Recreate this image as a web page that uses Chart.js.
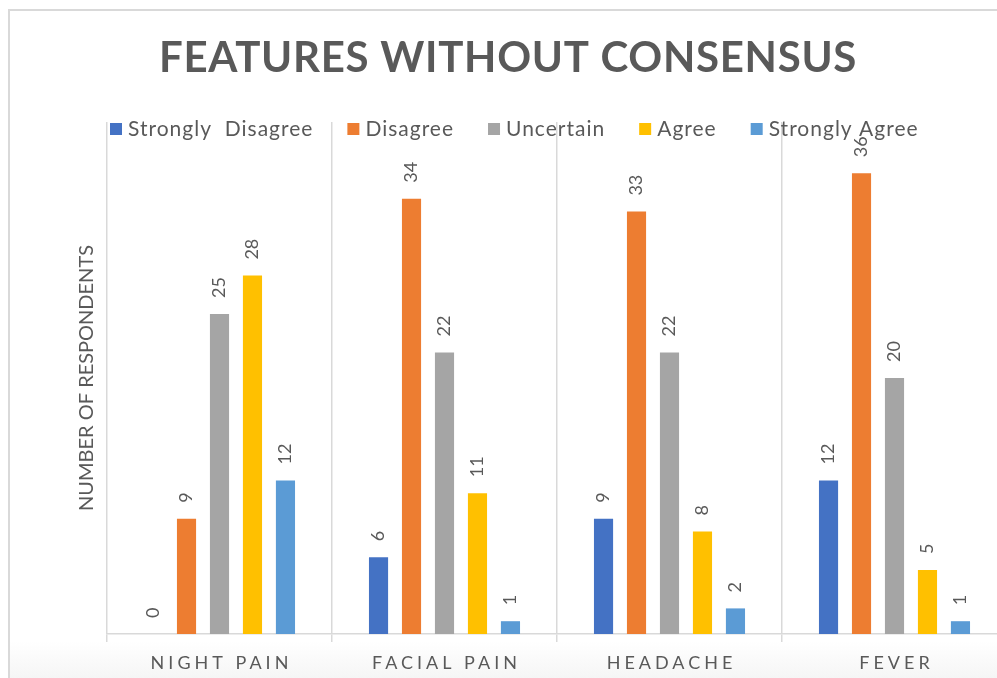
<!DOCTYPE html>
<html>
<head>
<meta charset="utf-8">
<script src="https://cdn.jsdelivr.net/npm/chart.js@4.4.1/dist/chart.umd.min.js"></script>
<style>
  html, body { margin: 0; padding: 0; background: #fff; overflow: hidden; width: 997px; height: 678px; }
  #frame {
    position: absolute; left: 8px; top: 9px; width: 1010px; height: 680px;
    border-top: 2px solid #d9d9d9; border-left: 2px solid #d9d9d9;
    background: linear-gradient(to bottom, #fff 0, #fff 630px, #f2f2f2 680px);
  }
  #chart { position: absolute; left: 0; top: 0; }
</style>
</head>
<body>
<div id="frame"></div>
<canvas id="chart" width="1014" height="678"></canvas>
<script>
// --- data ---
const categories = ["NIGHT PAIN", "FACIAL PAIN", "HEADACHE", "FEVER"];
const seriesNames = ["Strongly  Disagree", "Disagree", "Uncertain", "Agree", "Strongly Agree"];
const seriesColors = ["#4472C4", "#ED7D31", "#A5A5A5", "#FFC000", "#5B9BD5"];
const stronglyDisagree = [0, 6, 9, 12];
const disagree = [9, 34, 33, 36];
const uncertain = [25, 22, 22, 20];
const agree = [28, 11, 8, 5];
const stronglyAgree = [12, 1, 2, 1];
const seriesValues = [stronglyDisagree, disagree, uncertain, agree, stronglyAgree];

const titleText = "FEATURES WITHOUT CONSENSUS";
const yTitleText = "NUMBER OF RESPONDENTS";
const textColor = "#595959";
const gridColor = "#d9d9d9";

// title, legend, category labels and value labels (need letter spacing / rotation)
const textPlugin = {
  id: 'textPlugin',
  afterDraw(chart) {
    const { ctx, chartArea } = chart;
    ctx.save();
    ctx.fillStyle = textColor;

    // title
    ctx.font = "bold 42px Lato";
    ctx.letterSpacing = "0.7px";
    ctx.textAlign = "center";
    ctx.textBaseline = "middle";
    ctx.fillText(titleText, 508, 58);

    // legend
    ctx.font = "21px Lato";
    ctx.letterSpacing = "1px";
    ctx.textAlign = "left";
    let x = 110;
    const ly = 129;
    seriesNames.forEach((name, i) => {
      ctx.fillStyle = seriesColors[i];
      ctx.fillRect(x, ly - 6, 12, 12);
      ctx.fillStyle = textColor;
      ctx.fillText(name, x + 18, ly);
      x += 18 + ctx.measureText(name).width + 34;
    });

    // category labels
    const xs = chart.scales.x;
    ctx.font = "18px Lato";
    ctx.letterSpacing = "4px";
    ctx.textAlign = "center";
    categories.forEach((c, i) => {
      ctx.fillText(c, xs.getPixelForValue(i) + 2, chartArea.bottom + 29);
    });

    // value labels
    ctx.font = "18px Lato";
    ctx.letterSpacing = "0px";
    ctx.textAlign = "left";
    chart.data.datasets.forEach((ds, di) => {
      chart.getDatasetMeta(di).data.forEach((bar, j) => {
        ctx.save();
        ctx.translate(bar.x, bar.y - 16);
        ctx.rotate(-Math.PI / 2);
        ctx.fillText(String(ds.data[j]), 0, 0);
        ctx.restore();
      });
    });
    ctx.restore();
  }
};

new Chart(document.getElementById("chart").getContext("2d"), {
  type: "bar",
  data: {
    labels: categories,
    datasets: seriesNames.map((name, i) => ({
      label: name,
      data: seriesValues[i],
      backgroundColor: seriesColors[i],
      borderWidth: 0,
      categoryPercentage: 0.733,
      barPercentage: 0.58
    }))
  },
  options: {
    responsive: false,
    animation: false,
    layout: { padding: { top: 122, left: 75, right: 7, bottom: 36 } },
    plugins: {
      legend: { display: false },
      title: { display: false },
      tooltip: { enabled: false }
    },
    scales: {
      x: {
        grid: { display: true, offset: true, color: gridColor, lineWidth: 1.5, tickLength: 8, drawTicks: true },
        border: { display: true, color: gridColor, width: 1.5 },
        ticks: { display: false }
      },
      y: {
        min: 0,
        max: 40,
        grid: { display: false },
        border: { display: false },
        ticks: { display: false },
        title: {
          display: true,
          text: yTitleText,
          color: textColor,
          font: { family: "Lato", size: 20 },
          padding: { top: 0, bottom: 0 }
        }
      }
    }
  },
  plugins: [textPlugin]
});
</script>
</body>
</html>
